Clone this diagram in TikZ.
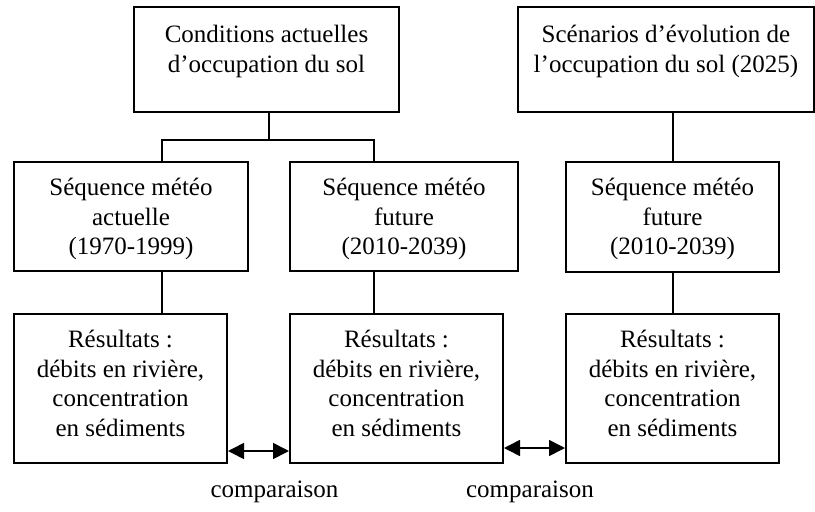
\documentclass[tikz,border=0pt]{standalone}
\usepackage{fontspec}
\setmainfont{Liberation Serif}
\usetikzlibrary{positioning,arrows.meta}
\tikzset{
    box/.style={draw, line width=2pt, inner sep=0pt, anchor=north west},
    txt/.style={align=center, inner sep=0pt, anchor=north, font=\fontsize{25}{29.5}\selectfont},
    link/.style={line width=2pt},
    cmp/.style={line width=1.6pt, {Triangle[length=16pt,width=16pt]}-{Triangle[length=16pt,width=16pt]}}
}
\begin{document}
\begin{tikzpicture}[x=1pt,y=-1pt]
        \useasboundingbox (0,0) rectangle (815,512);
        % name/left/top/width/height/text offset/text
        \foreach \name/\x/\y/\w/\h/\dy/\txt in {
            c1/133/6/265/105/19/{Conditions actuelles\\d’occupation du sol},
            c2/517/6/296/105/19/{Scénarios d’évolution de\\l’occupation du sol (2025)},
            m1/13/161/234/109/17/{Séquence météo\\actuelle\\(1970-1999)},
            m2/289/161/228/109/17/{Séquence météo\\future\\(2010-2039)},
            m3/565/161/213/110/17/{Séquence météo\\future\\(2010-2039)},
            r1/13/313/213/149/17/{Résultats :\\débits en rivière,\\concentration\\en sédiments},
            r2/289/313/213/149/17/{Résultats :\\débits en rivière,\\concentration\\en sédiments},
            r3/565/313/213/149/17/{Résultats :\\débits en rivière,\\concentration\\en sédiments}}{
            \node[box, minimum width=\w pt, minimum height=\h pt] (\name) at (\x,\y) {};
            \node[txt, below=\dy pt of \name.north] (\name t) {\txt};
        }
        % junction under the first land use box
        \coordinate (jl) at (162,140);
        \coordinate (jr) at (374,140);
        \draw[link] ([xshift=2.5pt]c1.south) -- ([xshift=2.5pt]c1.south |- jl);
        \draw[link] (m1.north -| jl) -- (jl) -- (jr) -- (m2.north -| jr);
        \draw[link] (c2.south -| m3.north) -- (m3.north);
        \draw[link] (m1.south -| jl) -- (r1.north -| jl);
        \draw[link] (m2.south -| jr) -- (r2.north -| jr);
        \draw[link] (m3.south) -- (r3.north);
        % comparisons
        \draw[cmp] ([yshift=13pt]r1.south east) -- ([yshift=13pt]r2.south west);
        \draw[cmp] ([yshift=16pt]r2.south east) -- ([yshift=16pt]r3.south west);
        \node[anchor=base, font=\fontsize{25}{29.5}\selectfont] (k1) at (274.5,497) {comparaison};
        \node[anchor=base, font=\fontsize{25}{29.5}\selectfont] (k2) at (530,497) {comparaison};
    \end{tikzpicture}
\end{document}
